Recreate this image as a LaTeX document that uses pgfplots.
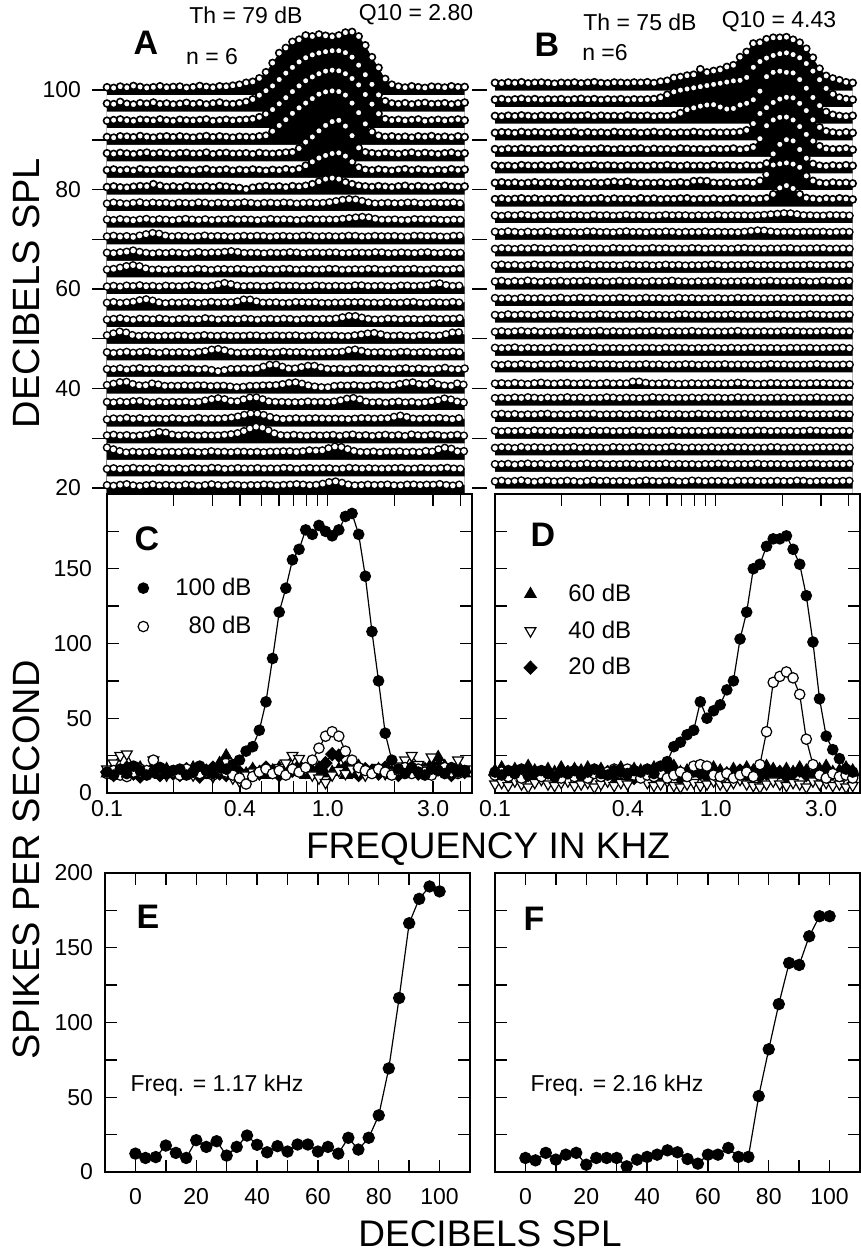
\documentclass[border=0pt]{standalone}
\usepackage{fontspec}
\setmainfont{Liberation Sans}
\usepackage{pgfplots}
\usepackage{pgfplotstable}
\pgfplotsset{compat=1.18}
\DeclareRobustCommand\fs[1]{\fontsize{#1}{#1}\selectfont}

% raster rows: one line per level (r0 = 20 dB ... r24 = 100 dB), spikes/s at each frequency
\pgfplotstableread[header=false]{
f 0.1000 0.1072 0.1148 0.1230 0.1318 0.1413 0.1514 0.1622 0.1738 0.1862 0.1995 0.2138 0.2291 0.2455 0.2630 0.2818 0.3020 0.3236 0.3467 0.3715 0.3981 0.4266 0.4571 0.4898 0.5248 0.5623 0.6026 0.6457 0.6918 0.7413 0.7943 0.8511 0.9120 0.9772 1.047 1.122 1.202 1.288 1.380 1.479 1.585 1.698 1.820 1.950 2.089 2.239 2.399 2.570 2.754 2.951 3.162 3.388 3.631 3.890 4.169
r0 14 12 15 17 13 11 14 16 12 15 13 12 16 14 11 15 17 13 12 16 14 12 15 13 17 14 12 16 15 18 14 13 16 20 26 25 17 14 12 16 15 13 17 14 12 15 17 13 16 14 18 15 12 16 14
r1 13 15 12 14 16 13 15 12 17 14 13 15 12 16 14 13 17 15 12 14 16 13 14 16 12 15 13 17 14 12 16 15 13 16 14 12 15 17 13 14 16 12 15 13 17 14 12 16 15 13 14 17 15 12 16
r2 28 22 16 12 15 13 14 16 12 15 14 13 16 15 12 14 17 13 15 12 16 14 13 15 12 16 14 17 15 13 18 20 16 22 30 32 25 18 14 13 16 12 15 14 16 13 15 12 17 14 22 27 24 15 17
r3 14 16 13 15 12 14 16 20 25 22 15 13 16 14 12 15 13 14 16 18 22 30 40 42 34 22 15 13 16 14 12 15 13 14 16 12 15 17 13 15 12 14 16 13 15 12 17 14 13 16 15 12 14 16 13
r4 12 15 14 17 13 16 12 15 14 13 16 14 12 15 17 13 15 14 16 18 22 28 32 30 24 17 14 12 16 15 13 17 14 15 13 16 12 14 15 17 13 16 14 18 25 21 15 13 16 14 17 15 12 16 14
r5 15 13 16 14 17 18 14 12 16 13 15 14 16 13 15 20 24 27 22 15 17 26 30 28 18 14 16 13 15 12 17 14 16 13 15 18 24 28 24 16 13 15 12 14 16 13 15 12 14 17 20 26 22 15 13
r6 16 20 25 26 18 14 15 22 16 12 14 13 15 12 16 14 11 15 13 10 8 12 14 13 16 14 17 20 25 23 16 12 10 7 12 15 13 16 14 12 15 17 13 14 18 22 25 19 16 24 17 14 13 22 16
r7 14 13 16 12 15 17 13 14 16 12 15 13 16 14 12 15 10 6 12 15 14 16 13 17 24 30 26 16 14 18 23 26 20 15 13 16 12 14 17 15 13 16 14 12 15 17 13 16 14 12 15 18 14 13 16
r8 15 12 14 16 13 15 17 14 12 16 13 15 14 12 16 18 24 25 19 14 12 15 13 16 14 12 15 17 13 16 14 12 15 13 16 14 18 24 22 15 13 16 14 12 15 17 13 14 16 12 15 13 17 14 16
r9 16 22 28 24 15 13 16 14 12 15 13 16 14 12 15 17 13 14 16 12 15 13 17 14 12 16 15 13 17 14 12 16 15 13 16 14 12 15 17 20 24 21 15 13 16 14 12 15 17 13 14 18 24 26 18
r10 13 15 17 14 12 16 15 13 17 14 12 15 16 13 14 18 15 12 16 14 13 17 14 12 16 15 13 17 14 12 16 15 13 16 14 18 22 26 22 16 14 12 15 17 13 14 16 12 15 17 13 16 14 18 15
r11 14 16 13 15 17 22 25 20 14 12 15 13 16 14 12 15 17 13 16 14 20 26 22 15 13 16 14 12 15 17 13 16 14 12 15 13 16 14 17 13 15 12 16 14 13 15 17 14 12 16 15 13 17 14 16
r12 13 15 12 16 14 17 13 15 12 16 14 13 15 17 14 12 16 20 25 18 14 13 16 14 12 15 17 13 16 14 12 15 17 13 14 16 12 15 18 14 13 16 14 12 15 17 13 16 14 20 24 18 14 16 13
r13 14 16 20 25 28 24 16 13 15 12 14 16 13 15 17 14 12 16 15 13 17 14 12 15 16 13 14 17 15 12 16 14 13 15 17 14 12 16 13 15 17 14 12 16 15 13 17 14 12 16 15 13 14 17 15
r14 15 13 16 18 22 17 14 12 15 13 16 14 12 15 17 13 16 15 18 20 16 13 15 14 12 16 13 15 17 14 12 16 15 13 17 14 12 15 16 13 15 17 14 12 16 15 13 14 17 15 12 16 14 13 17
r15 14 16 13 15 12 17 21 25 22 15 13 16 14 12 15 17 13 16 14 12 15 16 13 17 14 12 16 15 13 14 17 15 12 16 14 13 15 17 14 12 16 15 13 16 14 12 15 17 13 16 14 12 15 17 14
r16 15 13 16 14 12 15 17 13 16 14 12 15 17 14 13 16 12 15 14 17 13 16 14 12 15 17 13 16 14 12 15 17 13 16 14 15 18 20 22 24 19 15 13 16 14 12 15 17 13 16 14 12 15 13 16
r17 13 16 14 12 15 17 13 16 14 15 12 16 14 13 17 15 12 16 14 13 15 17 14 12 16 15 13 17 14 12 16 15 13 16 18 22 26 27 24 18 14 12 16 14 13 15 17 14 12 16 15 13 17 14 12
r18 13 15 12 11 14 16 15 22 17 13 15 12 16 14 13 15 12 16 14 12 10 6 11 14 16 13 15 12 16 14 17 22 30 38 41 38 28 22 17 15 13 16 14 12 15 17 13 16 14 12 15 17 14 13 15
r19 14 16 13 15 12 17 14 13 16 15 12 16 14 12 15 17 13 14 16 12 15 13 16 14 12 15 13 17 14 18 28 40 52 60 66 68 58 40 22 15 13 16 14 12 15 17 13 16 14 12 15 13 17 14 16
r20 15 13 16 14 12 15 17 13 16 14 12 15 16 13 14 17 12 15 16 13 14 15 12 16 14 13 15 17 18 30 50 66 85 102 114 118 100 70 32 18 15 13 16 14 12 15 17 13 16 14 12 15 17 13 15
r21 14 12 16 15 13 17 14 12 15 16 13 16 14 12 15 17 13 16 14 12 15 14 13 16 18 32 50 68 88 105 120 134 148 155 158 156 145 120 90 55 30 18 14 16 13 15 12 16 14 17 13 15 12 16 14
r22 13 15 17 14 12 16 15 13 17 14 12 16 14 13 15 17 12 14 16 13 15 16 18 24 34 48 66 85 104 122 138 150 160 168 171 169 160 145 125 95 65 35 18 14 16 13 15 17 12 14 16 13 15 17 14
r23 15 13 20 14 12 16 14 18 13 15 12 14 17 13 16 12 15 18 14 13 16 20 28 41 55 70 90 110 128 145 158 167 173 177 180 180 174 160 135 105 75 42 22 15 13 16 12 15 17 13 14 16 12 15 18
r24 14 12 16 13 18 15 12 14 17 13 15 16 12 14 18 15 13 17 16 19 22 28 31 42 61 90 121 137 156 163 176 173 179 175 172 176 185 187 173 145 108 75 40 22 16 13 17 14 12 16 15 13 17 14 15
}\rawA
\pgfplotstabletranspose[colnames from=0]{\rasterA}{\rawA}

\pgfplotstableread[header=false]{
f 0.1000 0.1072 0.1148 0.1230 0.1318 0.1413 0.1514 0.1622 0.1738 0.1862 0.1995 0.2138 0.2291 0.2455 0.2630 0.2818 0.3020 0.3236 0.3467 0.3715 0.3981 0.4266 0.4571 0.4898 0.5248 0.5623 0.6026 0.6457 0.6918 0.7413 0.7943 0.8511 0.9120 0.9772 1.047 1.122 1.202 1.288 1.380 1.479 1.585 1.698 1.820 1.950 2.089 2.239 2.399 2.570 2.754 2.951 3.162 3.388 3.631 3.890 4.169
r0 12 14 11 13 15 12 10 13 14 11 12 14 12 10 13 15 12 14 11 13 12 10 13 15 12 11 14 13 10 12 15 13 11 14 12 13 10 15 12 14 11 13 12 14 11 13 15 12 10 14 12 13 11 15 12
r1 14 13 15 12 14 16 13 15 12 14 13 15 12 14 16 13 15 12 14 13 15 14 12 15 13 14 16 12 15 13 14 12 15 13 16 14 12 15 13 14 16 12 15 13 14 12 15 13 16 14 12 15 13 14 16
r2 13 15 14 12 16 13 15 14 12 15 13 14 16 12 15 13 14 12 16 14 13 15 16 13 14 12 15 17 14 12 15 13 14 15 12 14 16 13 15 12 14 13 16 14 12 15 13 14 12 16 13 15 14 12 15
r3 15 12 14 13 15 12 16 14 13 15 12 13 15 14 12 16 13 15 12 14 13 16 14 12 15 13 14 16 12 15 13 14 12 16 13 15 14 12 15 13 16 14 12 15 13 14 12 15 16 13 14 12 15 13 14
r4 14 16 13 15 12 14 13 15 16 12 14 12 14 15 13 16 12 14 13 15 12 14 15 13 12 16 14 13 15 12 14 16 13 14 12 15 13 14 16 12 15 13 14 12 15 13 16 14 12 15 13 14 16 12 15
r5 13 14 12 15 13 16 14 12 15 13 14 16 13 15 12 14 13 16 14 12 15 13 12 14 16 13 15 12 14 13 15 12 16 13 15 12 14 16 13 15 12 14 13 15 14 12 15 13 14 16 12 14 13 15 12
r6 6 7 5 8 6 4 7 9 6 5 7 8 5 6 7 4 6 8 5 7 6 14 12 7 5 6 8 5 4 6 7 5 6 8 6 5 7 9 6 5 4 6 8 6 5 7 6 4 8 6 7 5 6 4 5
r7 14 12 15 13 16 14 12 15 13 14 16 13 15 12 14 16 13 15 14 12 15 13 14 16 13 15 12 14 13 16 14 12 15 13 14 16 12 15 13 14 12 15 16 13 15 12 14 13 15 16 12 14 13 15 14
r8 15 13 14 16 12 15 13 14 12 16 14 12 15 13 14 16 12 15 13 14 12 15 13 15 14 12 16 13 15 14 12 15 13 16 12 14 15 13 14 16 12 15 13 14 12 16 13 15 14 12 15 13 16 14 12
r9 13 15 12 14 16 13 15 12 14 13 16 14 12 15 13 14 16 12 15 13 14 12 15 13 16 14 12 15 13 14 16 12 15 12 14 13 15 16 12 14 13 15 12 14 16 13 15 12 14 13 16 14 12 15 13
r10 14 12 16 13 15 14 12 15 13 16 14 13 15 12 14 13 16 14 12 15 13 14 16 12 15 13 14 12 16 15 13 14 12 15 13 14 16 12 15 13 14 12 16 15 13 14 12 15 16 13 14 12 15 13 16
r11 15 13 14 12 16 14 13 15 12 14 16 12 14 16 13 15 12 14 13 16 14 12 14 16 13 15 12 14 16 13 15 12 14 13 15 12 14 16 13 15 12 14 13 15 14 12 16 13 14 15 12 14 16 13 14
r12 15 17 13 16 14 18 15 13 16 14 17 13 16 15 17 14 16 13 15 17 14 16 15 13 17 14 16 18 14 15 13 16 14 17 15 13 16 14 17 15 13 18 16 14 16 14 17 15 13 16 18 14 15 17 15
r13 14 16 13 15 12 14 16 13 15 14 12 15 13 14 16 12 15 13 14 12 16 14 13 15 12 14 16 13 15 12 14 13 15 16 14 12 15 13 14 16 12 15 13 14 12 15 13 14 16 12 14 15 13 14 16
r14 13 15 14 12 15 13 16 14 12 15 13 14 16 12 15 13 14 12 16 14 13 15 12 14 16 13 15 12 14 13 16 14 12 15 13 14 12 16 15 13 14 12 15 13 16 14 12 15 13 16 14 12 15 13 14
r15 15 13 16 14 12 15 13 14 16 12 15 13 14 12 16 15 13 14 12 15 16 13 14 12 15 13 16 14 12 15 13 14 16 12 15 13 14 12 16 18 20 18 14 13 15 14 12 16 13 15 14 12 16 13 15
r16 14 12 15 13 16 14 12 15 13 14 16 13 15 14 12 16 13 15 12 14 16 13 15 13 12 14 16 13 15 14 12 15 13 14 16 12 15 13 14 12 15 16 18 20 22 20 16 13 15 12 14 16 13 15 12
r17 13 15 12 14 16 13 15 12 14 13 16 14 12 15 13 14 16 12 15 13 14 12 16 13 15 12 14 13 15 16 12 14 13 15 12 14 16 13 15 12 14 16 30 52 60 50 30 17 14 12 15 13 16 14 12
r18 12 14 11 13 10 12 14 11 13 12 10 13 11 12 10 13 11 14 16 13 16 12 10 12 11 13 10 12 14 11 18 19 18 12 11 13 10 12 14 11 19 41 74 78 81 77 66 36 19 12 10 13 11 12 10
r19 15 13 14 12 16 14 13 15 12 14 16 13 15 12 14 16 13 15 14 12 15 13 14 12 15 13 16 14 12 15 13 14 12 16 13 15 14 12 15 13 14 22 55 88 104 100 70 40 20 14 12 15 13 16 14
r20 14 12 15 13 16 14 12 15 13 14 16 13 15 12 14 13 16 14 12 15 13 14 16 12 15 13 14 12 16 15 13 14 12 15 13 14 16 12 15 20 50 95 115 124 125 115 92 65 42 24 15 13 14 16 12
r21 13 15 14 12 16 13 15 14 12 15 13 14 16 12 15 13 14 12 16 14 13 15 12 14 16 13 15 12 14 13 16 14 12 15 13 14 14 16 22 45 80 100 118 130 136 134 115 90 58 32 18 14 12 15 13
r22 14 12 15 13 16 14 12 15 13 14 12 15 13 14 16 12 15 13 14 12 16 14 13 15 12 14 13 16 24 36 42 48 52 53 45 38 40 52 58 70 100 150 165 169 165 163 140 110 78 50 28 18 14 12 15
r23 13 15 12 14 16 13 15 12 14 13 15 12 14 16 13 15 12 14 13 15 12 14 13 14 15 20 30 40 46 50 54 58 62 66 70 74 78 80 90 125 145 157 166 172 175 169 158 138 112 82 52 32 20 15 13
r24 14 12 15 13 16 12 14 15 13 11 14 13 15 12 14 16 13 12 15 14 13 15 14 16 13 18 21 31 34 39 42 61 50 55 59 69 75 103 121 150 153 165 170 170 172 163 153 132 101 63 38 29 23 16 14
}\rawB
\pgfplotstabletranspose[colnames from=0]{\rasterB}{\rawB}

\tikzset{
  s100/.style={black, line width=0.6pt, mark=*, mark size=2.6pt, mark options={solid, fill=black}},
  s80/.style={black, line width=0.6pt, mark=*, mark size=2.6pt, mark options={solid, fill=white, draw=black}},
  s60/.style={black, line width=0.6pt, mark=triangle*, mark size=3.2pt, mark options={solid, fill=black}},
  s40/.style={black, line width=0.6pt, mark=triangle*, mark size=3.1pt, mark options={solid, fill=white, draw=black, rotate=180}},
  s20/.style={black, line width=0.6pt, mark=diamond*, mark size=3.2pt, mark options={solid, fill=black, xscale=1.3}},
}

\pgfplotsset{
  rfill/.style={fill=black, draw=none, mark=none},
  rwhite/.style={fill=white, draw=none, mark=none},
  rdot/.style={only marks, mark=*, mark size=1.75pt,
    mark options={draw=black, fill=white, line width=0.8pt}},
  rdashb/.style={black, mark=none, line width=4.3pt, line cap=round, dash pattern=on 0pt off 3.3pt},
  rdashw/.style={white, mark=none, line width=2.7pt, line cap=round, dash pattern=on 0pt off 3.3pt},
  mypanel/.style={scale only axis, width=182.5pt,
    axis line style={line width=0.7pt},
    every tick/.style={black, line width=0.7pt},
    tick align=inside, xtick pos=both, ytick pos=both,
    major tick length=6pt, minor tick length=6pt,
    xticklabel style={font=\fs{11.5}}, yticklabel style={font=\fs{11.5}}},
  myfreq/.style={mypanel, height=149.5pt, xmin=0.1, xmax=4.5, ymin=0, ymax=200,
    xtick={0.1,0.4,1,3}, xticklabels={0.1,0.4,1.0,3.0},
    minor xtick={0.2,0.3,0.5,0.6,0.7,0.8,0.9,2,4},
    ytick={0,50,100,150}, minor ytick={25,75,125,175},
    yticklabel style={xshift=-4pt},
    legend style={draw=none, fill=none, font=\fs{12}, nodes={font=\fs{12}},
      inner sep=0pt, column sep=0pt},
    legend cell align=right},
  mylevel/.style={mypanel, height=149.5pt, xmin=-10, xmax=110, ymin=0, ymax=200,
    xtick={0,20,...,100}, minor xtick={10,30,...,90},
    ytick={0,50,...,200}, minor ytick={25,75,...,175},
    xticklabel style={yshift=-4.5pt}, yticklabel style={xshift=-2.5pt}},
  myraster/.style={scale only axis, width=182.5pt, height=244.25pt,
    xmin=0.1, xmax=4.5, ymin=18.8, ymax=117, clip=false,
    axis line style={draw=none}, xtick=\empty,
    every tick/.style={black, line width=0.7pt},
    tick align=outside, major tick length=7.5pt, minor tick length=7.5pt,
    yticklabel style={font=\fs{11.5}}},
}

\begin{document}
\begin{tikzpicture}
\useasboundingbox (0,0) rectangle (430.5pt,-626pt);

% A: raster, rows 20..100 dB (drawn from the top row down)
\begin{axis}[myraster, xmode=log, at={(53.5pt,-247pt)}, anchor=south west,
  /pgf/number format/assume math mode=true,
  ytick={20,40,60,80,100}, minor ytick={30,50,70,90}, ytick pos=both,
  yticklabel pos=left, yticklabel style={xshift=-2pt}]
\pgfplotsinvokeforeach{24,23,...,18}{
  \addplot[rfill] table[x=f, y expr={20+#1*10/3+0.5+0.0643*(\thisrow{r#1}-13)}] {\rasterA} \closedcycle;
  \addplot[rwhite] table[x=f, y expr={20+#1*10/3-1.0}] {\rasterA} \closedcycle;
  \addplot[rdot] table[x=f, y expr={20+#1*10/3+0.5+0.0643*(\thisrow{r#1}-13)}] {\rasterA};
}
\pgfplotsinvokeforeach{17,16,...,0}{
  \addplot[rfill] table[x=f, y expr={20+#1*10/3+0.5+0.0643*(\thisrow{r#1}-13)}] {\rasterA} \closedcycle;
  \addplot[rwhite] table[x=f, y expr={20+#1*10/3-1.0}] {\rasterA} \closedcycle;
  \addplot[rdashb] table[x=f, y expr={20+#1*10/3+0.5+0.0643*(\thisrow{r#1}-13)}] {\rasterA};
  \addplot[rdashw] table[x=f, y expr={20+#1*10/3+0.5+0.0643*(\thisrow{r#1}-13)}] {\rasterA};
}
\end{axis}

% B: raster
\begin{axis}[myraster, xmode=log, at={(247.5pt,-247pt)}, anchor=south west, ytick=\empty]
\pgfplotsinvokeforeach{24,23,...,17}{
  \addplot[rfill] table[x=f, y expr={20+#1*10/3+1.4+0.0581*(\thisrow{r#1}-13)}] {\rasterB} \closedcycle;
  \addplot[rwhite] table[x=f, y expr={20+#1*10/3-0.1}] {\rasterB} \closedcycle;
  \addplot[rdot] table[x=f, y expr={20+#1*10/3+1.4+0.0581*(\thisrow{r#1}-13)}] {\rasterB};
}
\pgfplotsinvokeforeach{16,15,...,0}{
  \addplot[rfill] table[x=f, y expr={20+#1*10/3+1.4+0.0581*(\thisrow{r#1}-13)}] {\rasterB} \closedcycle;
  \addplot[rwhite] table[x=f, y expr={20+#1*10/3-0.1}] {\rasterB} \closedcycle;
  \addplot[rdashb] table[x=f, y expr={20+#1*10/3+1.4+0.0581*(\thisrow{r#1}-13)}] {\rasterB};
  \addplot[rdashw] table[x=f, y expr={20+#1*10/3+1.4+0.0581*(\thisrow{r#1}-13)}] {\rasterB};
}
\end{axis}

% C
\begin{axis}[myfreq, xmode=log, at={(53.5pt,-396.5pt)}, anchor=south west,
  /pgf/number format/assume math mode=true,
  legend image code/.code={\path[draw=none, fill=none] (-3pt,0pt) -- (14pt,0pt); \draw[#1] plot coordinates {(0pt,0pt)};},
  legend style={at={(0.082,0.734)}, anchor=north west, row sep=5pt}]
\addlegendimage{s100}
\addlegendimage{s80}
\addplot[s20, forget plot] table[x=f, y=r0] {\rasterA};
\addplot[s60, forget plot] table[x=f, y=r12] {\rasterA};
\addplot[s40, forget plot] table[x=f, y=r6] {\rasterA};
\addplot[s80, forget plot] table[x=f, y=r18] {\rasterA};
\addplot[s100, forget plot] table[x=f, y=r24] {\rasterA};
\legend{100 dB, 80 dB}
\end{axis}

% D
\begin{axis}[myfreq, xmode=log, at={(247.5pt,-396.5pt)}, anchor=south west, yticklabels={},
  legend image code/.code={\path[draw=none, fill=none] (-3pt,0pt) -- (17pt,0pt); \draw[#1] plot coordinates {(0pt,0pt)};},
  legend style={at={(0.079,0.714)}, anchor=north west, row sep=4.2pt}]
\addlegendimage{s60}
\addlegendimage{s40}
\addlegendimage{s20}
\addplot[s20, forget plot] table[x=f, y=r0] {\rasterB};
\addplot[s60, forget plot] table[x=f, y=r12] {\rasterB};
\addplot[s40, forget plot] table[x=f, y=r6] {\rasterB};
\addplot[s80, forget plot] table[x=f, y=r18] {\rasterB};
\addplot[s100, forget plot] table[x=f, y=r24] {\rasterB};
\legend{60 dB, 40 dB, 20 dB}
\end{axis}

% E
\begin{axis}[mylevel, at={(52.5pt,-586pt)}, anchor=south west,
  /pgf/number format/assume math mode=true]
\addplot[s100, mark size=2.8pt] table {
0 12.3
3.3 9.4
6.7 10
10 17.7
13.3 12.8
16.7 9.4
20 21.3
23.3 16.8
26.7 20.6
30 11
33.3 16.8
36.7 24.4
40 18.2
43.3 13.2
46.7 17.3
50 13.7
53.3 18.4
56.7 18.4
60 13.7
63.3 16.8
66.7 12.3
70 22.9
73.3 15
76.7 22.9
80 37.9
83.3 69.3
86.7 116.4
90 166.4
93.3 182.7
96.7 191
100 187.7
};
\end{axis}

% F
\begin{axis}[mylevel, at={(247.5pt,-586pt)}, anchor=south west, yticklabels={},
  /pgf/number format/assume math mode=true]
\addplot[s100, mark size=2.8pt] table {
0 9.4
3.3 7.8
6.7 12.8
10 8.3
13.3 11.6
16.7 12.8
20 4.9
23.3 9.4
26.7 9.4
30 9.4
33.3 3.8
36.7 8.3
40 10.1
43.3 11.6
46.7 14.5
50 13.2
53.3 8.7
56.7 5.6
60 11.6
63.3 11.6
66.7 16.1
70 10.1
73.3 10.1
76.7 50.8
80 82.1
83.3 112.3
86.7 139.8
90 138.5
93.3 157.7
96.7 171.1
100 171.1
};
\end{axis}

\begin{scope}[x=0.5pt, y=-0.5pt]
\node[rotate=90, font=\fs{19}] at (26,293) {DECIBELS SPL};
\node[rotate=90, font=\fs{19}] at (26,860) {SPIKES PER SECOND};
\node[font=\fs{18.5}] at (488,849) {FREQUENCY IN KHZ};
\node[font=\fs{18.5}] at (490,1234) {DECIBELS SPL};
\node[font=\bfseries\fs{17}] at (146,43) {A};
\node[font=\bfseries\fs{17}] at (547,45) {B};
\node[font=\bfseries\fs{17}] at (147,539) {C};
\node[font=\bfseries\fs{17}] at (543,535) {D};
\node[font=\bfseries\fs{17}] at (148,917) {E};
\node[font=\bfseries\fs{17}] at (534,919) {F};
\node[font=\fs{11.5}] at (246,15) {Th = 79 dB};
\node[font=\fs{11.5}] at (416,15) {Q10 = 2.80};
\node[font=\fs{11.5}] at (212,57) {n = 6};
\node[font=\fs{11.5}] at (640,22) {Th = 75 dB};
\node[font=\fs{11.5}] at (779,22) {Q10 = 4.43};
\node[font=\fs{11.5}] at (605,53) {n =6};
\node[font=\fs{11.5}] at (217,1086) {Freq. = 1.17 kHz};
\node[font=\fs{11.5}] at (617,1086) {Freq. = 2.16 kHz};
\end{scope}
\end{tikzpicture}
\end{document}
